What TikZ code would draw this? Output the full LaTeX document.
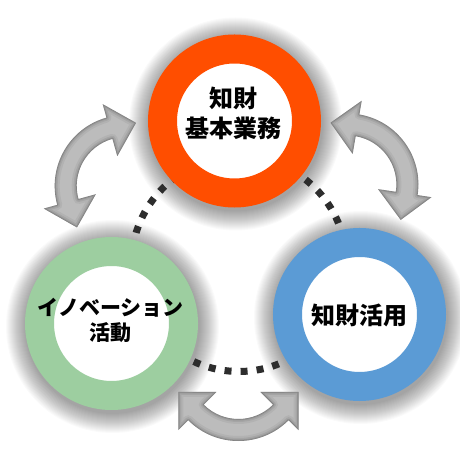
\documentclass[tikz,border=0pt]{standalone}
\usepackage{fontspec}
\newfontfamily\jp{Noto Sans CJK JP}
\usetikzlibrary{calc}
\definecolor{ringorange}{RGB}{255,78,0}
\definecolor{ringgreen}{RGB}{157,206,160}
\definecolor{ringblue}{RGB}{91,155,213}
\definecolor{arrowgray}{RGB}{188,188,188}
\definecolor{dotgray}{RGB}{45,45,45}
\newcommand\arrowpath[3]{($(#1)+(#2:71pt)$) arc[start angle=#2, end angle=#3, radius=71pt]
  -- ($(#1)+(#3:85pt)$) -- ($(#1)+({#3+25}:64pt)$) -- ($(#1)+(#3:31pt)$) -- ($(#1)+(#3:49pt)$)
  arc[start angle=#3, end angle=#2, radius=49pt]
  -- ($(#1)+(#2:31pt)$) -- ($(#1)+({#2-25}:64pt)$) -- ($(#1)+(#2:85pt)$) -- cycle}
\newcommand\bevelarrow[3]{%
  \fill[arrowgray] \arrowpath{#1}{#2}{#3};
  \begin{scope}
    \clip \arrowpath{#1}{#2}{#3};
    \draw[black, opacity=0.05, line width=10pt, line join=round] \arrowpath{#1}{#2}{#3};
    \draw[black, opacity=0.07, line width=6pt, line join=round] \arrowpath{#1}{#2}{#3};
    \draw[black, opacity=0.10, line width=3pt, line join=round] \arrowpath{#1}{#2}{#3};
    \draw[black, opacity=0.12, line width=1.2pt, line join=round] \arrowpath{#1}{#2}{#3};
  \end{scope}}
\newcommand\softshadow[1]{%
  \foreach \i [evaluate=\i as \rr using 86.5+\i] in {1,...,20}{
    \fill[black, opacity=0.018] ($(#1)+(1pt,-3pt)$) circle[radius=\rr pt];
  }}
\tikzset{
  ring/.style={circle, minimum size=144pt, inner sep=0pt, line width=29pt, draw=#1, fill=white},
  bigtext/.style={align=center, inner sep=0pt, font=\jp\bfseries\fontsize{24}{30}\selectfont},
  smalltext/.style={align=center, inner sep=0pt, font=\jp\bfseries\fontsize{21}{25}\selectfont},
  dotring/.style={draw=dotgray, line width=7pt, dash pattern=on 7pt off 9.082pt, dash phase=6.45pt}
}
\begin{document}
\begin{tikzpicture}[x=1pt, y=1pt]
  \fill[white] (0,0) rectangle (460,460);
  \useasboundingbox (0,0) rectangle (460,460);
  \coordinate (ctop) at (234.5,339);
  \coordinate (cleft) at (111.5,136.5);
  \coordinate (cright) at (359.5,145.5);
  \coordinate (dc) at (239,196);
  \coordinate (tlc) at (125.7,274);
  \coordinate (trc) at (347.4,275.5);
  \coordinate (bc) at (238.4,90);
  % shadows
  \softshadow{ctop}
  \softshadow{cleft}
  \softshadow{cright}
  % dotted ring
  \draw[dotring] (dc) circle[radius=107.5pt];
  % arrows
  \bevelarrow{tlc}{105.7}{195.4}
  \bevelarrow{trc}{-8.6}{80.3}
  \bevelarrow{bc}{225}{315}
  % rings
  \node[ring=ringorange] (kihon) at (ctop) {};
  \node[ring=ringgreen] (inov) at (cleft) {};
  \node[ring=ringblue] (katsuyo) at (cright) {};
  % texts
  \node[bigtext] (kihontext) at (233,347) {知財\\基本業務};
  \node[smalltext] (inovtext) at (110.5,139.5) {イノベーション\\活動};
  \node[bigtext] (katsuyotext) at (359,145) {知財活用};
\end{tikzpicture}
\end{document}
